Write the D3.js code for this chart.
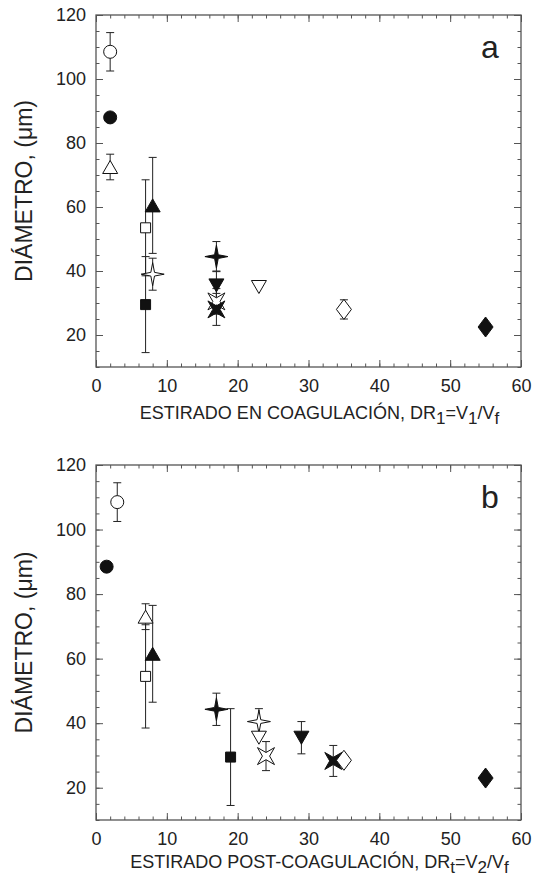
<!DOCTYPE html>
<html>
<head>
<meta charset="utf-8">
<script src="https://cdn.jsdelivr.net/npm/d3@7"></script>
<style>
  html, body { margin: 0; padding: 0; background: #fff; }
  svg { display: block; font-family: "Liberation Sans", Arial, sans-serif; }
</style>
</head>
<body>
<svg id="chart" width="539" height="882"></svg>
<script>
// Marker series, in drawing order
const seriesKeys = ["circleOpen", "circleFilled", "triUpOpen", "squareOpen", "triUpFilled",
  "star4Open", "squareFilled", "star4Filled", "triDownFilled", "starXOpen", "starXFilled",
  "triDownOpen", "diamondOpen", "diamondFilled"];

// Panel a: draw ratio in coagulation
const xA   = [2, 2, 2, 7, 8, 8, 7, 17, 17, 17, 17, 23, 35, 55];
const yA   = [108.5, 88, 72.5, 53.5, 60.5, 39, 29.5, 44.5, 35.5, 30.5, 28, 35, 28, 22.5];
const errA = [6, 0, 4, 15, 15, 5, 15, 4.7, 4.5, 4, 5, 0, 3, 0];

// Panel b: post-coagulation draw ratio
const xB   = [3, 1.5, 7, 7, 8, 23, 19, 17, 29, 24, 33.5, 23, 35, 55];
const yB   = [108.5, 88.5, 73, 54.5, 61.5, 40.5, 29.5, 44.3, 35.5, 29.8, 28.3, 35.5, 28.5, 23];
const errB = [6, 0, 4, 16, 15, 4, 15, 5, 5, 4.5, 4.8, 0, 0, 0];

const xTicks = [0, 10, 20, 30, 40, 50, 60];
const yTicks = [20, 40, 60, 80, 100, 120];
const xDomain = [0, 60];
const yDomain = [10, 120];

// Symbol styles per series
const markerStyle = {
  circleOpen:    { shape: "circle",   filled: false },
  circleFilled:  { shape: "circle",   filled: true },
  triUpOpen:     { shape: "triUp",    filled: false },
  squareOpen:    { shape: "square",   filled: false },
  triUpFilled:   { shape: "triUp",    filled: true },
  star4Open:     { shape: "star4",    filled: false },
  squareFilled:  { shape: "square",   filled: true },
  star4Filled:   { shape: "star4",    filled: true },
  triDownFilled: { shape: "triDown",  filled: true },
  starXOpen:     { shape: "starX",    filled: false },
  starXFilled:   { shape: "starX",    filled: true },
  triDownOpen:   { shape: "triDown",  filled: false },
  diamondOpen:   { shape: "diamond",  filled: false },
  diamondFilled: { shape: "diamond",  filled: true }
};

function shapePath(shape) {
  const p = d3.path();
  if (shape === "circle") {
    p.arc(0, 0, 6.5, 0, 2 * Math.PI);
  } else if (shape === "square") {
    p.rect(-5, -5, 10, 10);
  } else if (shape === "triUp") {
    p.moveTo(0, -6.5); p.lineTo(7.5, 6.5); p.lineTo(-7.5, 6.5); p.closePath();
  } else if (shape === "triDown") {
    p.moveTo(0, 6.5); p.lineTo(7.5, -6.5); p.lineTo(-7.5, -6.5); p.closePath();
  } else if (shape === "diamond") {
    p.moveTo(0, -10); p.lineTo(7.5, 0); p.lineTo(0, 10); p.lineTo(-7.5, 0); p.closePath();
  } else if (shape === "star4" || shape === "starX") {
    const R = shape === "star4" ? 11.5 : 12;
    const r = shape === "star4" ? 2.6 : 3.6;
    const rot = shape === "star4" ? 0 : Math.PI / 4;
    for (let i = 0; i < 8; i++) {
      const a = rot - Math.PI / 2 + i * Math.PI / 4;
      const rr = i % 2 === 0 ? R : r;
      const x = rr * Math.cos(a), y = rr * Math.sin(a);
      if (i === 0) p.moveTo(x, y); else p.lineTo(x, y);
    }
    p.closePath();
  }
  return p.toString();
}

const svg = d3.select("#chart");
const frameColor = "#555";
const textColor = "#222";

function drawPanel(cfg) {
  const { top, bottom, left, right, xs, ys, errs, letter, xTitle, titleY } = cfg;
  const x = d3.scaleLinear().domain(xDomain).range([left, right]);
  const y = d3.scaleLinear().domain(yDomain).range([bottom, top]);
  const g = svg.append("g");

  // Minor ticks on all four sides
  const xMinor = d3.range(0, 61, 2);
  const yMinor = d3.range(10, 121, 5);
  const minor = (axis, sc, vals, tr) => g.append("g").attr("transform", tr)
    .call(axis(sc).tickValues(vals).tickSize(-3.5).tickFormat(""))
    .call(s => s.select(".domain").remove())
    .call(s => s.selectAll("line").attr("stroke", frameColor));
  minor(d3.axisBottom, x, xMinor, `translate(0,${bottom})`);
  minor(d3.axisTop, x, xMinor, `translate(0,${top})`);
  minor(d3.axisLeft, y, yMinor, `translate(${left},0)`);
  minor(d3.axisRight, y, yMinor, `translate(${right},0)`);

  // Major ticks with labels on bottom and left, plain on top and right
  const major = (axis, sc, vals, tr, labels, pad) => g.append("g").attr("transform", tr)
    .call(axis(sc).tickValues(vals).tickSize(-7).tickPadding(pad)
      .tickFormat(labels ? d3.format("d") : ""))
    .call(s => s.select(".domain").remove())
    .call(s => s.selectAll("line").attr("stroke", frameColor))
    .call(s => s.selectAll("text").attr("font-size", 18).attr("fill", textColor)
      .attr("font-family", "Liberation Sans, Arial, sans-serif"));
  major(d3.axisBottom, x, xTicks, `translate(0,${bottom})`, true, 12.5);
  major(d3.axisTop, x, xTicks, `translate(0,${top})`, false, 0);
  major(d3.axisLeft, y, yTicks, `translate(${left},0)`, true, 10);
  major(d3.axisRight, y, yTicks, `translate(${right},0)`, false, 0);

  // Frame
  g.append("rect").attr("x", left).attr("y", top)
    .attr("width", right - left).attr("height", bottom - top)
    .attr("fill", "none").attr("stroke", frameColor).attr("stroke-width", 1.3);

  // Error bars
  const data = seriesKeys.map((k, i) => ({ key: k, x: xs[i], y: ys[i], e: errs[i] }));
  const eb = g.append("g").attr("stroke", "#222").attr("stroke-width", 1);
  data.filter(d => d.e > 0).forEach(d => {
    const cx = x(d.x);
    eb.append("line").attr("x1", cx).attr("x2", cx)
      .attr("y1", y(d.y - d.e)).attr("y2", y(d.y + d.e));
    [d.y - d.e, d.y + d.e].forEach(v => {
      eb.append("line").attr("x1", cx - 4).attr("x2", cx + 4)
        .attr("y1", y(v)).attr("y2", y(v));
    });
  });

  // Markers
  g.append("g").selectAll("path").data(data).join("path")
    .attr("transform", d => `translate(${x(d.x)},${y(d.y)})`)
    .attr("d", d => shapePath(markerStyle[d.key].shape))
    .attr("fill", d => markerStyle[d.key].filled ? "#111" : "#fff")
    .attr("stroke", "#111").attr("stroke-width", 1);

  // Panel letter
  g.append("text").attr("x", 490).attr("y", top + 43)
    .attr("text-anchor", "middle").attr("font-size", 32).attr("fill", textColor)
    .text(letter);

  // Y title
  g.append("text")
    .attr("transform", `translate(32,${(top + bottom) / 2}) rotate(-90)`)
    .attr("text-anchor", "middle").attr("font-size", 23).attr("fill", textColor)
    .text("DIÁMETRO, (μm)");

  // X title with subscripts
  const t = g.append("text").attr("x", (left + right) / 2 + 11).attr("y", titleY)
    .attr("text-anchor", "middle").attr("font-size", 18).attr("fill", textColor);
  xTitle.forEach(([txt, sub]) => {
    t.append("tspan").attr("baseline-shift", sub ? "-30%" : null)
      .attr("font-size", sub ? 17 : null).text(txt);
  });
}

drawPanel({
  top: 15, bottom: 367, left: 96, right: 521,
  xs: xA, ys: yA, errs: errA, letter: "a", titleY: 419,
  xTitle: [["ESTIRADO EN COAGULACIÓN, DR", false], ["1", true], ["=V", false], ["1", true], ["/V", false], ["f", true]]
});
drawPanel({
  top: 465, bottom: 820, left: 96, right: 521,
  xs: xB, ys: yB, errs: errB, letter: "b", titleY: 868,
  xTitle: [["ESTIRADO POST-COAGULACIÓN, DR", false], ["t", true], ["=V", false], ["2", true], ["/V", false], ["f", true]]
});
</script>
</body>
</html>
